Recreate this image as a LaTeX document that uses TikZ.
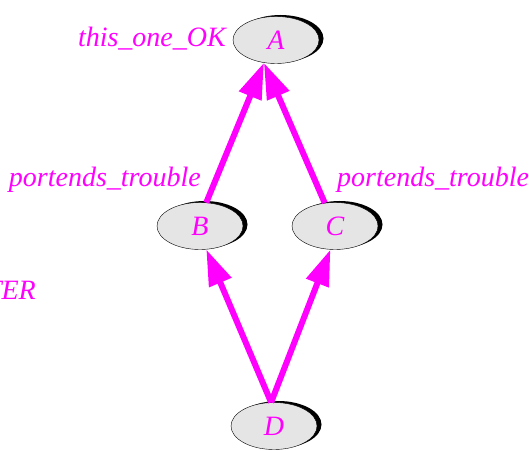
\documentclass[tikz,border=0pt]{standalone}
\usepackage{fontspec}
\setmainfont{Liberation Serif}
\usetikzlibrary{arrows.meta,positioning,shapes.geometric,shadows}
\definecolor{depmag}{RGB}{255,0,255}

\begin{document}
\begin{tikzpicture}[
  x=1pt, y=1pt,
  >={Triangle[length=36pt,width=23pt]},
  state/.style={ellipse, draw, thin, fill=black!10, minimum width=86pt,
                minimum height=47pt, inner sep=0pt, text=depmag,
                font=\fontsize{28}{32}\selectfont\itshape,
                general shadow={fill=black, shadow xshift=4.5pt, shadow yshift=1.5pt}},
  lbl/.style={inner sep=0pt, text=depmag, font=\fontsize{28}{32}\selectfont\itshape},
  dep/.style={->, draw=depmag, fill=depmag, line width=6pt}
]
\useasboundingbox (0,0) rectangle (529,450);
\clip (0,0) rectangle (529,450);

\node[state] (A) at (276,410) {A};
\node[state] (B) at (200,224) {B};
\node[state] (C) at (335,224) {C};
\node[state] (D) at (274,24) {D};

\node[lbl, anchor=base east] (okA) at (226,403) {this\_one\_OK};
\node[lbl, anchor=base east] (trB) at (201,263) {portends\_trouble};
\node[lbl, anchor=base west] (trC) at (337,263) {portends\_trouble};
\node[lbl, anchor=base east] (ter) at (36,151) {TER};

\draw[dep] (B.75) -- (A.242);
\draw[dep] (C.114) -- (A.242);
\draw[dep] (D.97) -- (B.285);
\draw[dep] (D.97) -- (C.259);
\end{tikzpicture}
\end{document}
